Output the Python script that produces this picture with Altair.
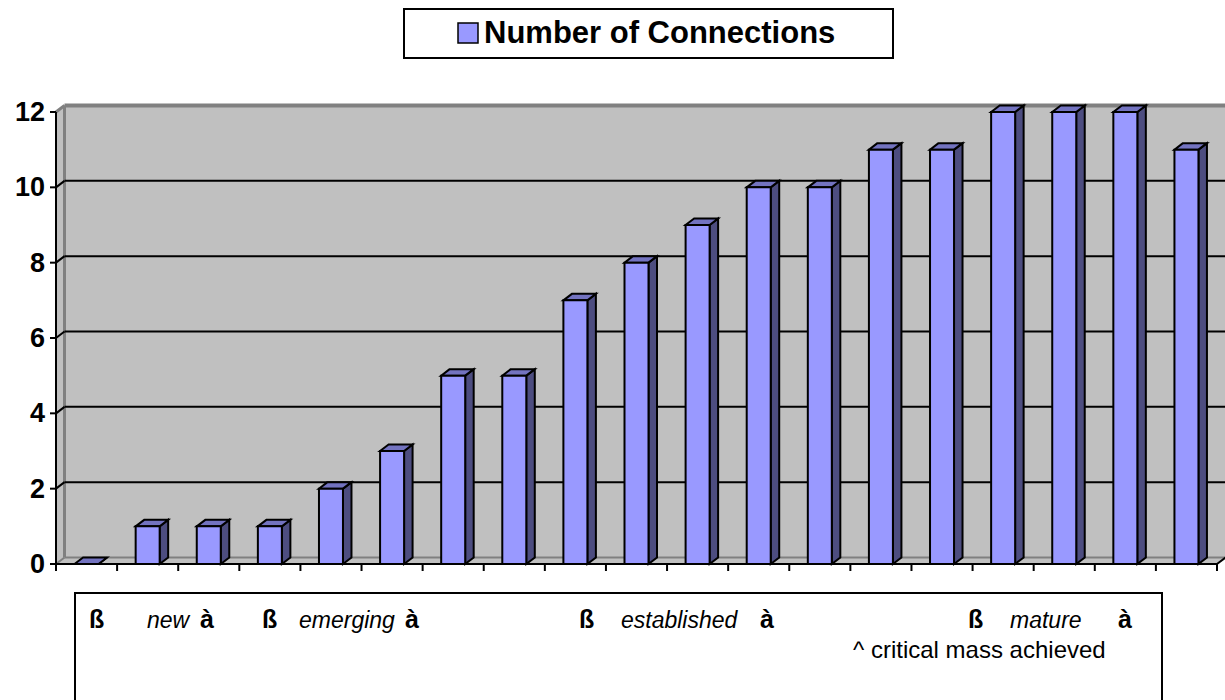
import altair as alt
import pandas as pd

# ---- data ----
values = [0, 1, 1, 1, 2, 3, 5, 5, 7, 8, 9, 10, 10, 11, 11, 12, 12, 12, 11]
y_ticks = [0, 2, 4, 6, 8, 10, 12]
series_name = "Number of Connections"
phase_tokens = ["ß", "new", "à", "ß", "emerging", "à", "ß", "established", "à", "ß", "mature", "à"]
phase_italic = [False, True, False, False, True, False, False, True, False, False, True, False]
note_text = "^ critical mass achieved"

# ---- layout / style ----
FONT = "Liberation Sans"
W, H = 1161, 452
PAD_L, PAD_T, PAD_R, PAD_B = 56, 112, 8, 136
N = len(values)
YMAX = y_ticks[-1]
BAND = W / N
UNIT = H / YMAX
DX = 8.5 / BAND          # depth offset in band units
DY = 6.5 / UNIT          # depth offset in value units
HALF = 12.0 / BAND       # half width of the bar front face
FRONT = "#9999FF"
SIDE = "#4D4D80"
TOP = "#7373C0"
WALL = "#C0C0C0"
EDGE = "#808080"

xs = alt.Scale(domain=[0, N], nice=False, zero=False)
ys = alt.Scale(domain=[0, YMAX], nice=False, zero=False)

bars_df = pd.DataFrame({"idx": list(range(N)), "value": values})

# ---- frame (walls and floor) ----
wall_df = pd.DataFrame({"x1": [DX], "x2": [N + DX], "y1": [DY], "y2": [YMAX + DY]})
wall = alt.Chart(wall_df).mark_rect(fill=WALL).encode(
    x=alt.X("x1:Q", scale=xs, axis=None), x2="x2:Q",
    y=alt.Y("y1:Q", scale=ys, axis=None), y2="y2:Q")

leftwall_df = pd.DataFrame({"x": [0, DX], "lo": [0, DY], "hi": [YMAX, YMAX + DY]})
leftwall = alt.Chart(leftwall_df).mark_area(fill=WALL, orient="vertical").encode(
    x=alt.X("x:Q", scale=xs, axis=None),
    y=alt.Y("hi:Q", scale=ys, axis=None), y2="lo:Q")

floor_df = pd.DataFrame({"y": [0, DY], "xa": [0, DX], "xb": [N, N + DX]})
floor = alt.Chart(floor_df).mark_area(fill=WALL, orient="horizontal").encode(
    y=alt.Y("y:Q", scale=ys, axis=None),
    x=alt.X("xa:Q", scale=xs, axis=None), x2="xb:Q")

seg_rows = [
    # x1, y1, x2, y2, colour, width
    (DX, YMAX + DY, N + DX, YMAX + DY, EDGE, 4),
    (DX, DY, DX, YMAX + DY, EDGE, 3),
    (DX, DY, N + DX, DY, EDGE, 2),
    (0, YMAX, DX, YMAX + DY, EDGE, 3),
    (0, 0, DX, DY, EDGE, 2),
    (N, 0, N + DX, DY, "black", 2),
]
for v in y_ticks[1:-1]:
    seg_rows.append((0, v, DX, v + DY, "black", 2))
    seg_rows.append((DX, v + DY, N + DX, v + DY, "black", 2))
seg_df = pd.DataFrame(seg_rows, columns=["x1", "y1", "x2", "y2", "c", "w"])
segs = alt.Chart(seg_df).mark_rule().encode(
    x=alt.X("x1:Q", scale=xs, axis=None), x2="x2:Q",
    y=alt.Y("y1:Q", scale=ys, axis=None), y2="y2:Q",
    color=alt.Color("c:N", scale=None),
    strokeWidth=alt.StrokeWidth("w:Q", scale=None))

# ---- 3D bars ----
base = alt.Chart(bars_df)

side = base.transform_calculate(k="[0, 1]").transform_flatten(["k"]).transform_calculate(
    sx=f"datum.idx + 0.5 + {HALF} + datum.k * {DX}",
    slo=f"datum.k * {DY}",
    shi=f"datum.value + datum.k * {DY}",
).mark_area(fill=SIDE, stroke="black", strokeWidth=2, orient="vertical", strokeJoin="miter").encode(
    x=alt.X("sx:Q", scale=xs, axis=None),
    y=alt.Y("shi:Q", scale=ys, axis=None), y2="slo:Q",
    detail="idx:N")

top = base.transform_calculate(k="[0, 1]").transform_flatten(["k"]).transform_calculate(
    ty=f"datum.value + datum.k * {DY}",
    ta=f"datum.idx + 0.5 - {HALF} + datum.k * {DX}",
    tb=f"datum.idx + 0.5 + {HALF} + datum.k * {DX}",
).mark_area(fill=TOP, stroke="black", strokeWidth=2, orient="horizontal", strokeJoin="miter").encode(
    y=alt.Y("ty:Q", scale=ys, axis=None),
    x=alt.X("ta:Q", scale=xs, axis=None), x2="tb:Q",
    detail="idx:N")

front = base.transform_calculate(
    fa=f"datum.idx + 0.5 - {HALF}",
    fb=f"datum.idx + 0.5 + {HALF}",
    zero="0",
).mark_rect(fill=FRONT, stroke="black", strokeWidth=2).encode(
    x=alt.X("fa:Q", scale=xs, axis=None), x2="fb:Q",
    y=alt.Y("value:Q", scale=ys, axis=None), y2="zero:Q")

# ---- axes drawn through the same scales ----
ytick_df = pd.DataFrame({"v": y_ticks})
yaxis_line = alt.Chart(pd.DataFrame({"a": [0], "b": [YMAX], "z": [0]})).mark_rule(
    color="black", strokeWidth=2).encode(
    x=alt.X("z:Q", scale=xs, axis=None),
    y=alt.Y("a:Q", scale=ys, axis=None), y2="b:Q")
xaxis_line = alt.Chart(pd.DataFrame({"a": [0], "b": [N], "z": [0]})).mark_rule(
    color="black", strokeWidth=2).encode(
    y=alt.Y("z:Q", scale=ys, axis=None),
    x=alt.X("a:Q", scale=xs, axis=None), x2="b:Q")
yticks = alt.Chart(ytick_df).mark_rule(color="black", strokeWidth=2).encode(
    y=alt.Y("v:Q", scale=ys, axis=None), x=alt.value(-6), x2=alt.value(0))
ylabels = alt.Chart(ytick_df).mark_text(
    font=FONT, fontSize=27, fontWeight="bold", color="black", align="right",
    baseline="middle", dy=1).encode(
    y=alt.Y("v:Q", scale=ys, axis=None), x=alt.value(-11), text="v:Q")
xtick_df = pd.DataFrame({"t": list(range(N + 1))})
xticks = alt.Chart(xtick_df).mark_rule(color="black", strokeWidth=2).encode(
    x=alt.X("t:Q", scale=xs, axis=None), y=alt.value(H), y2=alt.value(H + 7))

# ---- legend box (top) ----
one = pd.DataFrame({"a": [0]})
lx = lambda px: alt.value(px - PAD_L)
ly = lambda py: alt.value(py - PAD_T)

legend_box = alt.Chart(one).mark_rect(fill="white", stroke="black", strokeWidth=2).encode(
    x=lx(404), x2=lx(893), y=ly(9), y2=ly(58))
legend_sym = alt.Chart(one).mark_rect(fill=FRONT, stroke="black", strokeWidth=1.5).encode(
    x=lx(458), x2=lx(478), y=ly(23), y2=ly(43))
legend_txt = alt.Chart(one).mark_text(
    text=series_name, font=FONT, fontSize=31, fontWeight="bold", align="left",
    baseline="middle", color="black").encode(x=lx(484), y=ly(34))

# ---- text box (bottom) ----
note_box = alt.Chart(one).mark_rect(fill="white", stroke="black", strokeWidth=2).encode(
    x=lx(75), x2=lx(1162), y=ly(593), y2=ly(730))

token_x = [89, 147, 200, 262, 299, 405, 579, 621, 760, 968, 1010, 1118]
layers_txt = []
for tok, it, px in zip(phase_tokens, phase_italic, token_x):
    layers_txt.append(alt.Chart(one).mark_text(
        text=tok, font=FONT, fontSize=23 if it else 25,
        fontStyle="italic" if it else "normal",
        fontWeight="normal" if it else "bold",
        align="left", baseline="alphabetic", color="black").encode(x=lx(px), y=ly(628)))
note = alt.Chart(one).mark_text(
    text=note_text, font=FONT, fontSize=24, align="left", baseline="alphabetic",
    color="black").encode(x=lx(853), y=ly(658))

chart = alt.layer(
    wall, leftwall, floor, segs, side, top, front,
    yaxis_line, xaxis_line, yticks, xticks, ylabels,
    legend_box, legend_sym, legend_txt, note_box, *layers_txt, note
).properties(
    width=W, height=H,
    autosize=alt.AutoSizeParams(type="none"),
    padding={"left": PAD_L, "top": PAD_T, "right": PAD_R, "bottom": PAD_B},
    background="white",
).configure_view(strokeWidth=0)

chart.save("out.html", embed_options={"renderer": "svg", "actions": False})
